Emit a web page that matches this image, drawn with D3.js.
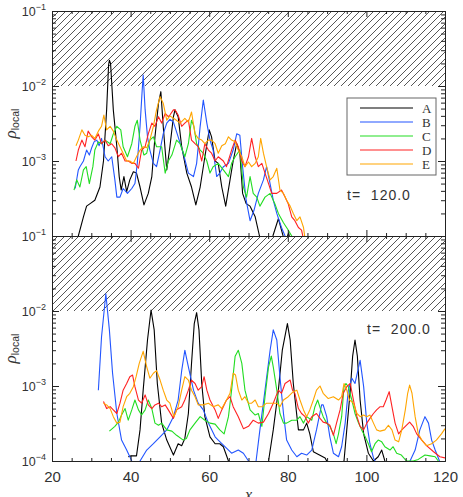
<!DOCTYPE html>
<html>
<head>
<meta charset="utf-8">
<script src="https://cdn.jsdelivr.net/npm/d3@7"></script>
<style>
body { margin: 0; background: #fff; }
text { fill: #333; }
</style>
</head>
<body>
<script>
// series names and panel times
var names = ["A", "B", "C", "D", "E"];
var times = ["t=  120.0", "t=  200.0"];
var xMajor = [20, 40, 60, 80, 100, 120];
var decades = [1e-1, 1e-2, 1e-3, 1e-4];

// t = 120 : [x, rho_local]
var t120A = [[26.0,7e-5],[26.7,1.0e-4],[28.0,1.8e-4],[28.8,2.5e-4],[29.7,2.7e-4],[30.9,3.0e-4],[32.2,4.5e-4],[33.1,1.0e-3],[33.9,4.8e-3],[34.4,1.9e-2],[34.6,2.2e-2],[34.9,2.0e-2],[35.6,4.8e-3],[36.5,1.55e-3],[37.1,6.2e-4],[37.6,4.1e-4],[38.3,6.2e-4],[39.0,3.9e-4],[39.8,5.6e-4],[40.7,7.2e-4],[41.5,6.9e-4],[42.4,4.5e-4],[43.4,2.6e-4],[44.5,3.7e-4],[45.4,6.2e-4],[46.2,2.1e-3],[47.1,5.9e-3],[47.7,8.4e-3],[48.3,2.9e-3],[49.2,7.6e-4],[50.0,1.55e-3],[50.9,3.9e-3],[51.3,4.8e-3],[52.1,3.9e-3],[53.0,1.55e-3],[54.3,6.9e-4],[55.5,4.5e-4],[56.6,2.6e-4],[57.7,4.5e-4],[58.9,1.14e-3],[60.0,2.6e-3],[60.6,2.1e-3],[61.5,1.0e-3],[62.3,9.3e-4],[63.2,4.5e-4],[64.2,2.5e-4],[65.3,5.6e-4],[66.1,1.0e-3],[67.0,1.7e-3],[67.8,1.27e-3],[68.5,3.7e-4],[69.4,2.7e-4],[70.4,2.5e-4],[71.7,1.8e-4],[72.8,1.0e-4],[74.0,7e-5],[76.2,1.0e-4],[77.6,1.7e-4],[78.4,1.2e-4],[79.3,8e-5],[80.2,1.1e-4],[81.0,7e-5]];
var t120B = [[25.9,4.3e-4],[26.7,7.6e-4],[27.1,8.4e-4],[28.0,1.0e-3],[28.8,1.4e-3],[29.5,1.2e-3],[30.1,1.5e-3],[30.7,1.8e-3],[31.4,1.9e-3],[32.0,1.6e-3],[32.6,2.0e-3],[33.5,1.14e-3],[34.3,1.0e-3],[35.2,1.14e-3],[36.0,5.6e-4],[36.5,3.3e-4],[37.3,3.3e-4],[38.1,4.3e-4],[39.2,3.7e-4],[40.3,4.3e-4],[41.1,5.0e-4],[41.7,9.3e-4],[42.4,2.9e-3],[42.9,8.0e-3],[43.2,1.4e-2],[43.7,4.8e-3],[44.3,2.1e-3],[44.9,1.4e-3],[45.8,9.3e-4],[46.6,8.4e-4],[47.5,1.4e-3],[48.3,2.3e-3],[49.2,3.2e-3],[50.0,3.6e-3],[50.9,3.3e-3],[52.1,2.1e-3],[53.4,1.27e-3],[54.7,6.9e-4],[56.0,6.2e-4],[56.8,9.3e-4],[57.7,2.9e-3],[58.5,6.5e-3],[59.4,3.2e-3],[60.2,1.9e-3],[61.0,1.4e-3],[61.9,6.2e-4],[62.7,6.9e-4],[63.6,8.4e-4],[64.9,9.3e-4],[66.1,1.4e-3],[67.0,2.3e-3],[67.8,2.2e-3],[68.5,8.4e-4],[69.4,3.0e-4],[70.4,1.6e-4],[71.4,2.2e-4],[72.5,3.7e-4],[73.8,5.6e-4],[74.6,8.4e-4],[75.3,5.6e-4],[76.3,3.0e-4],[77.2,2.0e-4],[78.4,1.3e-4],[79.3,1.0e-4],[80.0,8e-5]];
var t120C = [[25.6,4.1e-4],[26.3,5.6e-4],[27.1,4.5e-4],[28.0,7.6e-4],[28.7,8.4e-4],[29.5,5.0e-4],[30.4,8.4e-4],[30.9,1.4e-3],[31.8,1.8e-3],[32.6,1.7e-3],[33.5,1.9e-3],[34.8,1.7e-3],[35.6,2.3e-3],[36.5,2.9e-3],[37.5,2.6e-3],[38.1,1.55e-3],[39.2,1.14e-3],[40.3,1.7e-3],[41.1,2.9e-3],[41.7,3.5e-3],[42.4,1.9e-3],[43.4,1.2e-3],[44.1,1.27e-3],[44.9,1.9e-3],[45.8,2.1e-3],[46.6,1.55e-3],[47.9,1.55e-3],[48.8,6.9e-4],[49.6,1.0e-3],[50.5,1.2e-3],[51.7,1.9e-3],[52.6,1.7e-3],[53.8,1.14e-3],[54.7,1.7e-3],[55.5,3.5e-3],[56.1,2.9e-3],[56.8,1.7e-3],[57.7,1.4e-3],[58.5,1.27e-3],[59.4,1.0e-3],[60.2,6.9e-4],[61.0,8.4e-4],[62.3,9.3e-4],[63.6,7.6e-4],[64.9,6.2e-4],[65.7,9.3e-4],[66.6,1.14e-3],[67.8,1.4e-3],[68.7,4.5e-4],[69.5,3.3e-4],[70.4,6.2e-4],[71.2,3.7e-4],[72.1,3.3e-4],[72.9,2.5e-4],[74.2,3.3e-4],[75.5,3.7e-4],[76.7,2.7e-4],[77.6,2.0e-4],[78.9,1.5e-4],[80.1,1.2e-4],[81.0,1.0e-4],[81.5,8e-5]];
var t120D = [[26.1,1.0e-3],[26.7,1.4e-3],[27.6,1.9e-3],[28.4,1.55e-3],[29.2,2.5e-3],[30.1,2.1e-3],[30.9,1.9e-3],[31.8,2.3e-3],[32.6,1.7e-3],[33.5,1.9e-3],[34.3,1.6e-3],[35.2,1.7e-3],[36.0,1.5e-3],[36.9,1.14e-3],[37.7,1.27e-3],[38.6,1.0e-3],[39.4,1.0e-3],[40.3,9.3e-4],[41.1,9.3e-4],[42.0,8.0e-4],[42.8,1.4e-3],[43.7,1.55e-3],[44.5,2.3e-3],[45.4,3.2e-3],[46.2,2.9e-3],[47.1,3.9e-3],[47.9,3.2e-3],[48.8,4.3e-3],[49.6,3.9e-3],[50.0,4.1e-3],[50.9,4.8e-3],[51.3,4.8e-3],[52.1,4.1e-3],[53.0,2.9e-3],[53.8,3.2e-3],[54.7,3.5e-3],[55.5,1.9e-3],[56.4,1.7e-3],[57.2,1.55e-3],[58.1,1.0e-3],[58.9,1.7e-3],[59.8,1.4e-3],[60.6,1.27e-3],[61.5,1.0e-3],[62.3,1.14e-3],[63.6,1.0e-3],[64.4,8.4e-4],[65.7,1.4e-3],[66.6,1.9e-3],[67.4,1.55e-3],[68.3,1.0e-3],[69.1,8.4e-4],[70.0,1.14e-3],[70.8,2.0e-3],[71.7,1.14e-3],[72.5,8.4e-4],[73.4,9.3e-4],[74.2,6.9e-4],[75.1,5.0e-4],[75.9,3.7e-4],[77.2,3.7e-4],[78.4,4.1e-4],[79.3,3.3e-4],[80.1,2.7e-4],[81.0,1.8e-4],[81.8,1.6e-4],[82.7,1.3e-4],[83.5,1.2e-4],[84.0,9e-5]];
var t120E = [[26.1,1.6e-3],[26.7,1.9e-3],[27.6,2.6e-3],[28.4,2.2e-3],[29.2,2.1e-3],[30.1,2.2e-3],[30.9,2.0e-3],[31.8,2.5e-3],[32.6,2.9e-3],[33.2,4.1e-3],[33.9,2.6e-3],[34.8,2.9e-3],[35.6,2.5e-3],[36.5,1.9e-3],[37.3,1.55e-3],[38.1,1.27e-3],[39.0,1.0e-3],[39.8,1.0e-3],[40.7,9.3e-4],[41.5,1.14e-3],[42.4,1.4e-3],[43.2,1.55e-3],[44.1,1.5e-3],[44.9,1.9e-3],[45.8,2.9e-3],[46.6,4.8e-3],[47.5,7.2e-3],[48.3,5.9e-3],[49.2,3.5e-3],[50.0,4.0e-3],[51.3,3.6e-3],[52.6,3.2e-3],[53.8,3.7e-3],[54.7,3.3e-3],[55.5,4.5e-3],[56.4,2.3e-3],[57.2,2.0e-3],[58.1,1.9e-3],[58.9,1.7e-3],[59.8,1.9e-3],[60.6,1.9e-3],[61.5,1.7e-3],[62.3,1.27e-3],[63.2,1.6e-3],[64.1,1.7e-3],[64.9,2.1e-3],[65.7,1.9e-3],[66.6,1.8e-3],[67.4,1.4e-3],[68.3,1.14e-3],[69.1,8.4e-4],[70.0,9.7e-4],[70.8,8.4e-4],[71.7,9.3e-4],[72.5,1.14e-3],[73.1,2.0e-3],[73.8,1.27e-3],[74.6,8.4e-4],[75.5,5.6e-4],[76.3,6.2e-4],[77.2,8.0e-4],[78.0,4.1e-4],[78.9,3.7e-4],[79.7,3.0e-4],[80.6,2.5e-4],[81.4,2.0e-4],[82.3,1.6e-4],[83.1,1.8e-4],[84.0,1.3e-4],[84.4,9e-5]];

// t = 200 : [x, rho_local]
var t200A = [[39.4,1.14e-4],[40.3,1.17e-4],[41.5,1.17e-4],[42.4,2.6e-4],[43.2,8.8e-4],[44.3,4.1e-3],[45.2,1.03e-2],[46.0,5.6e-3],[46.8,1.08e-3],[47.9,3.2e-4],[49.2,1.9e-4],[50.9,1.2e-4],[52.1,1.7e-4],[53.0,1.6e-4],[53.8,2.0e-4],[54.7,4.3e-4],[55.5,2.0e-3],[56.2,6.8e-3],[56.8,9.5e-3],[57.4,5.6e-3],[58.1,1.08e-3],[58.9,3.9e-4],[60.2,2.1e-4],[61.5,1.7e-4],[62.7,1.7e-4],[63.6,1.55e-4],[64.9,1.0e-4],[66.0,7e-5],[74.0,7e-5],[75.1,1.0e-4],[76.3,2.6e-4],[77.6,8.8e-4],[78.6,3.0e-3],[79.9,6.8e-3],[80.6,4.1e-3],[81.4,1.08e-3],[82.7,2.6e-4],[84.0,2.6e-4],[84.8,3.2e-4],[85.6,2.3e-4],[86.5,1.33e-4],[89.5,1.1e-4],[89.9,1.0e-4],[91.0,7e-5],[93.5,7e-5],[94.3,1.0e-4],[95.0,2.6e-4],[95.9,8.8e-4],[96.5,2.5e-3],[97.1,4.1e-3],[97.7,2.5e-3],[98.4,6.5e-4],[99.3,2.3e-4],[100.5,1.27e-4],[101.8,1.0e-4],[103.0,1.14e-4],[103.9,1.4e-4],[104.7,1.0e-4],[105.5,7e-5]];
var t200B = [[31.8,8.8e-4],[32.6,4.5e-3],[33.7,1.7e-2],[34.6,5.6e-3],[35.4,1.5e-3],[36.5,4.3e-4],[37.7,1.9e-4],[39.0,1.4e-4],[40.3,1.0e-4],[41.3,8e-5],[42.4,1.0e-4],[44.1,1.4e-4],[45.8,1.7e-4],[47.5,2.1e-4],[49.2,2.6e-4],[50.9,3.9e-4],[52.1,6.5e-4],[53.0,1.6e-3],[53.8,3.0e-3],[54.7,1.8e-3],[56.0,8.8e-4],[57.2,5.9e-4],[58.5,4.8e-4],[59.8,3.2e-4],[61.5,2.1e-4],[62.3,1.9e-4],[64.0,1.55e-4],[65.7,1.27e-4],[67.4,1.4e-4],[68.7,1.27e-4],[70.0,1.0e-4],[71.0,7e-5],[71.7,8e-5],[72.9,2.6e-4],[74.2,8.8e-4],[75.5,3.0e-3],[76.3,5.6e-3],[77.2,4.1e-3],[78.0,1.33e-3],[78.9,4.3e-4],[79.7,1.9e-4],[81.0,1.4e-4],[82.3,1.14e-4],[83.5,1.27e-4],[84.8,1.2e-4],[86.1,1.4e-4],[87.3,2.6e-4],[88.6,5.6e-4],[89.0,5.6e-4],[89.9,3.9e-4],[90.7,2.1e-4],[91.6,1.27e-4],[92.9,1.14e-4],[93.7,1.55e-4],[94.6,3.2e-4],[95.4,8.8e-4],[96.3,1.27e-3],[97.1,1.08e-3],[98.4,2.2e-3],[99.3,9.8e-4],[100.1,3.2e-4],[100.9,1.7e-4],[101.8,1.1e-4],[102.6,9e-5],[104.0,7e-5],[110.0,7e-5],[111.1,1.0e-4],[112.4,1.4e-4],[113.6,2.6e-4],[114.9,3.9e-4],[115.8,3.2e-4],[116.6,1.9e-4],[117.5,1.4e-4],[118.6,1.0e-4],[119.5,8e-5]];
var t200C = [[34.6,2.5e-4],[36.0,2.9e-4],[36.9,3.3e-4],[37.7,4.1e-4],[38.6,5.0e-4],[39.4,3.5e-4],[40.3,4.8e-4],[41.1,6.5e-4],[42.0,4.8e-4],[42.8,4.1e-4],[43.7,4.8e-4],[44.5,6.5e-4],[45.4,5.0e-4],[46.2,3.2e-4],[47.1,3.0e-4],[47.9,3.2e-4],[49.2,2.6e-4],[50.5,2.5e-4],[51.7,2.2e-4],[53.4,1.9e-4],[54.2,2.0e-4],[55.1,2.6e-4],[56.4,3.2e-4],[57.7,3.9e-4],[58.9,3.5e-4],[60.2,3.2e-4],[61.5,3.1e-4],[62.7,2.6e-4],[63.8,2.3e-4],[64.9,3.9e-4],[65.7,8.8e-4],[66.6,2.5e-3],[67.4,3.0e-3],[68.3,2.0e-3],[69.1,8.8e-4],[70.4,4.8e-4],[71.7,4.1e-4],[72.5,4.3e-4],[73.4,2.9e-4],[74.2,7.2e-4],[75.1,1.8e-3],[75.8,2.5e-3],[76.3,1.8e-3],[77.2,8.8e-4],[78.0,4.3e-4],[78.9,3.2e-4],[79.7,3.2e-4],[81.0,3.5e-4],[82.3,3.5e-4],[83.1,3.9e-4],[84.0,3.2e-4],[84.8,3.9e-4],[86.1,3.5e-4],[86.9,5.3e-4],[87.6,6.5e-4],[88.4,4.8e-4],[89.0,3.9e-4],[89.9,3.2e-4],[90.7,2.9e-4],[91.6,2.3e-4],[92.3,1.7e-4],[92.9,2.3e-4],[93.7,3.9e-4],[94.3,9.8e-4],[94.8,1.08e-3],[95.4,9.8e-4],[96.3,6.5e-4],[97.1,4.3e-4],[98.0,3.2e-4],[98.8,2.6e-4],[99.7,2.1e-4],[100.5,1.7e-4],[101.3,1.33e-4],[102.2,1.7e-4],[103.0,1.9e-4],[103.9,1.8e-4],[104.7,1.55e-4],[106.0,1.4e-4],[106.8,1.55e-4],[107.7,1.27e-4],[108.9,1.2e-4],[110.2,1.0e-4],[111.9,1.0e-4],[113.2,1.05e-4],[114.9,1.2e-4],[116.2,1.17e-4],[117.5,1.14e-4],[118.3,1.0e-4],[119.0,8e-5]];
var t200D = [[33.1,6.2e-4],[33.9,5.0e-4],[34.8,5.3e-4],[35.6,4.8e-4],[36.5,4.3e-4],[37.3,5.9e-4],[38.1,8.8e-4],[39.0,1.08e-3],[39.8,1.33e-3],[40.5,1.4e-3],[41.1,9.8e-4],[42.0,6.5e-4],[42.8,5.9e-4],[43.7,7.6e-4],[44.5,5.6e-4],[45.4,5.0e-4],[46.2,5.6e-4],[47.1,5.9e-4],[47.9,5.3e-4],[48.8,5.6e-4],[49.6,4.8e-4],[50.9,3.7e-4],[51.7,4.8e-4],[53.0,5.3e-4],[53.8,6.5e-4],[54.7,8.8e-4],[55.5,1.2e-3],[56.4,1.08e-3],[57.2,8.8e-4],[58.1,9.8e-4],[58.7,1.33e-3],[59.4,8.8e-4],[60.2,6.5e-4],[61.5,4.8e-4],[62.3,3.7e-4],[63.2,4.8e-4],[64.4,6.5e-4],[65.3,7.2e-4],[66.1,5.3e-4],[67.4,3.9e-4],[68.7,2.7e-4],[70.0,2.9e-4],[71.2,3.5e-4],[72.5,3.2e-4],[73.8,3.3e-4],[75.1,4.3e-4],[76.3,5.9e-4],[77.6,8.8e-4],[78.4,8.0e-4],[79.3,1.08e-3],[80.6,1.2e-3],[81.2,8.8e-4],[81.8,8.0e-4],[82.7,5.0e-4],[83.5,4.3e-4],[84.4,3.9e-4],[85.2,3.2e-4],[86.1,3.9e-4],[87.3,4.3e-4],[88.2,3.7e-4],[89.0,3.3e-4],[89.9,3.2e-4],[90.7,3.0e-4],[91.6,2.2e-4],[92.4,3.2e-4],[93.3,4.8e-4],[94.1,8.0e-4],[95.0,9.8e-4],[95.9,1.08e-3],[96.7,6.5e-4],[97.6,3.9e-4],[98.4,2.9e-4],[99.3,2.6e-4],[100.1,3.2e-4],[100.9,3.7e-4],[101.8,4.3e-4],[102.6,4.8e-4],[103.5,5.3e-4],[104.3,5.3e-4],[105.0,6.5e-4],[105.8,8.4e-4],[106.5,5.3e-4],[107.3,3.2e-4],[108.2,2.3e-4],[109.0,2.6e-4],[109.9,2.9e-4],[111.0,3.3e-4],[111.9,2.9e-4],[112.8,2.3e-4],[114.1,1.9e-4],[115.3,1.6e-4],[117.1,1.33e-4],[118.7,1.14e-4],[120.0,1.1e-4]];
var t200E = [[33.1,5.9e-4],[33.9,5.6e-4],[34.8,5.0e-4],[35.6,3.9e-4],[36.5,3.2e-4],[37.3,3.3e-4],[38.1,5.3e-4],[39.0,7.2e-4],[39.8,8.0e-4],[40.7,9.8e-4],[41.4,1.33e-3],[42.2,2.0e-3],[43.2,2.9e-3],[44.1,1.8e-3],[44.9,1.27e-3],[45.8,1.48e-3],[46.6,1.6e-3],[47.5,1.2e-3],[48.3,8.8e-4],[49.2,6.5e-4],[50.0,5.9e-4],[51.0,3.9e-4],[52.1,5.3e-4],[53.0,8.8e-4],[53.8,1.33e-3],[54.7,1.2e-3],[55.5,8.8e-4],[56.4,7.2e-4],[57.2,5.6e-4],[58.5,5.6e-4],[59.8,5.9e-4],[61.0,5.3e-4],[62.3,5.6e-4],[63.2,5.0e-4],[64.4,6.5e-4],[65.3,8.0e-4],[66.1,1.48e-3],[66.7,1.4e-3],[67.4,8.8e-4],[68.3,6.5e-4],[69.1,7.2e-4],[70.0,5.9e-4],[70.8,5.9e-4],[71.7,6.5e-4],[72.5,5.3e-4],[73.5,5.3e-4],[74.6,5.9e-4],[75.9,5.9e-4],[77.2,5.9e-4],[78.0,5.3e-4],[78.9,6.5e-4],[80.1,7.2e-4],[81.4,8.4e-4],[82.3,8.8e-4],[83.1,6.5e-4],[84.0,4.8e-4],[84.8,3.9e-4],[85.6,4.8e-4],[86.5,6.5e-4],[87.3,8.8e-4],[88.2,1.0e-3],[89.0,8.0e-4],[90.3,6.8e-4],[91.6,7.2e-4],[92.9,6.5e-4],[93.7,7.2e-4],[94.3,1.08e-3],[95.0,8.8e-4],[95.7,6.5e-4],[96.7,5.9e-4],[97.6,4.3e-4],[98.4,3.9e-4],[99.3,4.1e-4],[100.1,3.9e-4],[100.9,4.1e-4],[101.8,3.2e-4],[102.6,2.6e-4],[103.5,2.5e-4],[104.7,2.6e-4],[105.6,3.0e-4],[106.5,2.6e-4],[107.3,1.9e-4],[108.2,1.8e-4],[109.0,2.6e-4],[109.9,4.8e-4],[110.5,8.0e-4],[111.0,1.03e-3],[111.6,8.0e-4],[112.4,3.9e-4],[113.2,2.3e-4],[114.1,1.9e-4],[115.3,1.6e-4],[116.6,1.7e-4],[117.8,1.9e-4],[119.1,2.3e-4],[120.0,2.7e-4]];

var colors = ["#000000", "#2255ff", "#22dd22", "#ff2222", "#ffa500"];

var w = 463;
var h = 497;
var left = 52, right = 445;

var panels = [
  { top: 11,  bottom: 236, series: [t120A, t120B, t120C, t120D, t120E], time: times[0], tx: 347, ty: 200, labels: [1e-1, 1e-2, 1e-3] },
  { top: 236, bottom: 461, series: [t200A, t200B, t200C, t200D, t200E], time: times[1], tx: 367, ty: 334, labels: decades }
];

var svg = d3.select("body").append("svg")
  .attr("width", w)
  .attr("height", h);

var x = d3.scaleLinear().domain([20, 120]).range([left, right]);

var defs = svg.append("defs");
var pat = defs.append("pattern")
  .attr("id", "hatch")
  .attr("patternUnits", "userSpaceOnUse")
  .attr("width", 7)
  .attr("height", 7);
pat.append("path")
  .attr("d", "M-1,1 L1,-1 M0,7 L7,0 M6,8 L8,6")
  .attr("stroke", "#444")
  .attr("stroke-width", 0.9);

var xMinor = d3.range(20, 121, 5).filter(function(v) { return xMajor.indexOf(v) < 0; });
var yMinor = [];
[1e-4, 1e-3, 1e-2].forEach(function(d) {
  for (var k = 2; k <= 9; k++) yMinor.push(d * k);
});

function styleAxis(g) {
  g.selectAll(".domain").attr("stroke", "#222").attr("stroke-width", 1);
  g.selectAll(".tick line").attr("stroke", "#222");
}

panels.forEach(function(p, k) {
  var y = d3.scaleLog().domain([1e-4, 1e-1]).range([p.bottom, p.top]);

  defs.append("clipPath").attr("id", "clip" + k)
    .append("rect")
    .attr("x", left).attr("y", p.top)
    .attr("width", right - left).attr("height", p.bottom - p.top);

  // hatched region above 1e-2
  svg.append("rect")
    .attr("x", left)
    .attr("y", y(1e-1))
    .attr("width", right - left)
    .attr("height", y(1e-2) - y(1e-1))
    .attr("fill", "url(#hatch)");

  var line = d3.line()
    .x(function(d) { return x(d[0]); })
    .y(function(d) { return y(d[1]); });

  var lines = svg.append("g").attr("clip-path", "url(#clip" + k + ")");
  p.series.forEach(function(s, i) {
    lines.append("path")
      .datum(s)
      .attr("d", line)
      .attr("fill", "none")
      .attr("stroke", colors[i])
      .attr("stroke-width", 1.1)
      .attr("stroke-linejoin", "round");
  });

  // axes, ticks pointing inward
  svg.append("g").attr("transform", "translate(0," + p.bottom + ")")
    .call(d3.axisBottom(x).tickValues(xMajor).tickSize(-6).tickSizeOuter(0).tickFormat(""))
    .call(styleAxis);
  svg.append("g").attr("transform", "translate(0," + p.bottom + ")")
    .call(d3.axisBottom(x).tickValues(xMinor).tickSize(-3).tickSizeOuter(0).tickFormat(""))
    .call(styleAxis);
  svg.append("g").attr("transform", "translate(0," + p.top + ")")
    .call(d3.axisTop(x).tickValues(xMajor).tickSize(-6).tickSizeOuter(0).tickFormat(""))
    .call(styleAxis);
  svg.append("g").attr("transform", "translate(0," + p.top + ")")
    .call(d3.axisTop(x).tickValues(xMinor).tickSize(-3).tickSizeOuter(0).tickFormat(""))
    .call(styleAxis);
  svg.append("g").attr("transform", "translate(" + left + ",0)")
    .call(d3.axisLeft(y).tickValues(decades).tickSize(-7).tickSizeOuter(0).tickFormat(""))
    .call(styleAxis);
  svg.append("g").attr("transform", "translate(" + left + ",0)")
    .call(d3.axisLeft(y).tickValues(yMinor).tickSize(-4).tickSizeOuter(0).tickFormat(""))
    .call(styleAxis);
  svg.append("g").attr("transform", "translate(" + right + ",0)")
    .call(d3.axisRight(y).tickValues(decades).tickSize(-7).tickSizeOuter(0).tickFormat(""))
    .call(styleAxis);
  svg.append("g").attr("transform", "translate(" + right + ",0)")
    .call(d3.axisRight(y).tickValues(yMinor).tickSize(-4).tickSizeOuter(0).tickFormat(""))
    .call(styleAxis);

  // y tick labels 10^n
  p.labels.forEach(function(d) {
    var t = svg.append("text")
      .attr("x", 46)
      .attr("y", y(d) + 5)
      .attr("text-anchor", "end")
      .style("font-family", "Liberation Sans, Arial, sans-serif")
      .style("font-size", "12.5px");
    t.append("tspan").text("10");
    t.append("tspan")
      .attr("dy", -6)
      .style("font-size", "9px")
      .text("\u2212" + Math.round(-Math.log10(d)));
  });

  // y title
  var yt = svg.append("text")
    .attr("transform", "translate(16," + ((p.top + p.bottom) / 2) + ") rotate(-90)")
    .attr("text-anchor", "middle");
  yt.append("tspan")
    .style("font-family", "Liberation Serif, serif")
    .style("font-style", "italic")
    .style("font-size", "17px")
    .text("\u03c1");
  yt.append("tspan")
    .attr("dy", 3)
    .style("font-family", "Liberation Sans, Arial, sans-serif")
    .style("font-size", "10.5px")
    .text("local");

  // time label
  svg.append("text")
    .attr("x", p.tx)
    .attr("y", p.ty)
    .style("font-family", "Liberation Sans, Arial, sans-serif")
    .style("font-size", "14px")
    .style("letter-spacing", "1px")
    .style("white-space", "pre")
    .text(p.time);
});

// x tick labels on the lower panel
svg.append("g").attr("transform", "translate(0,461)")
  .call(d3.axisBottom(x).tickValues(xMajor).tickSize(0).tickPadding(10).tickFormat(d3.format("d")))
  .call(function(g) {
    g.select(".domain").remove();
    g.selectAll("text")
      .style("font-family", "Liberation Sans, Arial, sans-serif")
      .style("font-size", "15px")
      .attr("fill", "#333");
  });

// axis title, clipped by the page bottom as in the original
svg.append("text")
  .attr("x", x(70))
  .attr("y", 500)
  .attr("text-anchor", "middle")
  .style("font-family", "Liberation Serif, serif")
  .style("font-style", "italic")
  .style("font-size", "16px")
  .text("x");

// legend
var lg = svg.append("g");
lg.append("rect")
  .attr("x", 347).attr("y", 98)
  .attr("width", 89).attr("height", 77)
  .attr("fill", "#fff")
  .attr("stroke", "#666")
  .attr("stroke-width", 1);
names.forEach(function(n, i) {
  var yy = 108 + i * 14;
  lg.append("line")
    .attr("x1", 360).attr("x2", 413)
    .attr("y1", yy).attr("y2", yy)
    .attr("stroke", colors[i])
    .attr("stroke-width", 1.2);
  lg.append("text")
    .attr("x", 422).attr("y", yy + 4.5)
    .style("font-family", "Liberation Serif, serif")
    .style("font-size", "13px")
    .text(n);
});
</script>
</body>
</html>
